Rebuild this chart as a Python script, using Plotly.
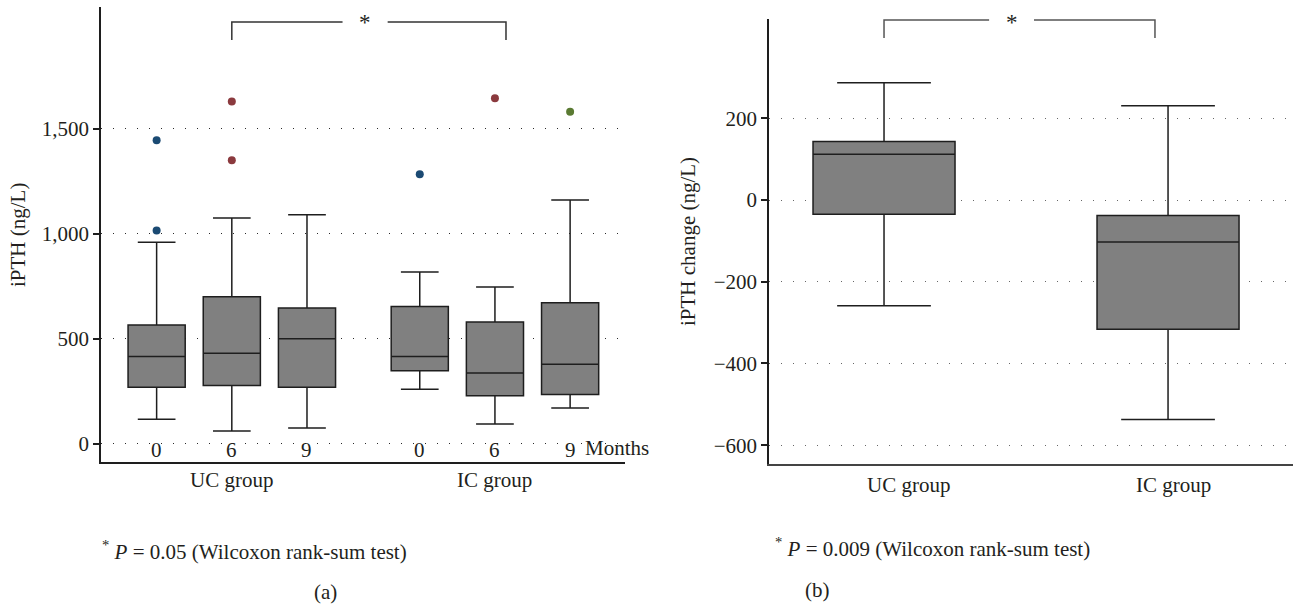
import plotly.graph_objects as go

# ---------------- data ----------------
# Panel (a): iPTH by group and month
groups = ["UC group", "IC group"]
months = ["0", "6", "9"]
a_q1 = [270, 278, 270, 349, 229, 235]
a_median = [416, 432, 501, 416, 338, 379]
a_q3 = [567, 701, 648, 654, 581, 673]
a_lower = [118, 62, 76, 260, 95, 171]
a_upper = [960, 1076, 1092, 819, 747, 1162]
# outliers: index of box, value
out_box = [0, 0, 1, 1, 3, 4, 5]
out_val = [1446, 1016, 1631, 1351, 1284, 1646, 1582]
month_colors = {"0": "#1b4a73", "6": "#8b3a3e", "9": "#5a7a32"}
a_ticks = [0, 500, 1000, 1500]
a_ticktext = ["0", "500", "1,000", "1,500"]

# Panel (b): iPTH change by group
b_q1 = [-35, -316]
b_median = [112, -103]
b_q3 = [143, -38]
b_lower = [-259, -537]
b_upper = [287, 231]
b_ticks = [-600, -400, -200, 0, 200]
b_ticktext = ["\u2212600", "\u2212400", "\u2212200", "0", "200"]

p_a = "0.05"
p_b = "0.009"

# ---------------- layout helpers ----------------
W, H = 1293, 605
FONT = "Liberation Serif"
TXT = "#231f20"
FS = 21

group_gap = 1.5
positions = []
labels_month = []
for gi, g in enumerate(groups):
    for mi, m in enumerate(months):
        positions.append(gi * (len(months) - 1 + group_gap) + mi)
        labels_month.append(m)

fig = go.Figure()

# Panel (a) boxes
fig.add_trace(go.Box(
    x=positions, q1=a_q1, median=a_median, q3=a_q3,
    lowerfence=a_lower, upperfence=a_upper,
    width=0.76, whiskerwidth=0.66, boxpoints=False,
    fillcolor="#808080", line=dict(color="#1e1e1e", width=1.5),
    xaxis="x", yaxis="y", showlegend=False, hoverinfo="skip",
))
fig.add_trace(go.Scatter(
    x=[positions[i] for i in out_box], y=out_val, mode="markers",
    marker=dict(size=8, color=[month_colors[labels_month[i]] for i in out_box]),
    xaxis="x", yaxis="y", showlegend=False, hoverinfo="skip",
))

# Panel (b) boxes
b_pos = list(range(len(groups)))
fig.add_trace(go.Box(
    x=b_pos, q1=b_q1, median=b_median, q3=b_q3,
    lowerfence=b_lower, upperfence=b_upper,
    width=0.5, whiskerwidth=0.66, boxpoints=False,
    fillcolor="#808080", line=dict(color="#1e1e1e", width=1.5),
    xaxis="x2", yaxis="y2", showlegend=False, hoverinfo="skip",
))

def py_(py):
    return (H - py) / H

def px_(px):
    return px / W

fig.update_layout(
    width=W, height=H,
    margin=dict(l=0, r=0, t=0, b=0),
    paper_bgcolor="white", plot_bgcolor="white",
    font=dict(family=FONT, size=FS, color=TXT),
    xaxis=dict(domain=[px_(101), px_(625)],
               range=[-0.74, 6.23], showgrid=False, zeroline=False,
               showticklabels=False, ticks="", showline=True,
               linecolor="#1e1e1e", linewidth=1.5, anchor="y"),
    yaxis=dict(domain=[py_(462), py_(7)],
               range=[-86, 2081], tickvals=a_ticks, ticktext=a_ticktext,
               showgrid=True, gridcolor="#2a2a2a", gridwidth=1.4,
               griddash="1.4px,10.6px", zeroline=False,
               ticks="outside", ticklen=6, tickwidth=1.5, tickcolor="#1e1e1e",
               showline=True, linecolor="#1e1e1e", linewidth=1.5,
               tickfont=dict(size=FS), anchor="x"),
    xaxis2=dict(domain=[px_(769), 1.0],
                range=[-0.405, 1.44], showgrid=False, zeroline=False,
                showticklabels=False, ticks="", showline=True,
                linecolor="#444444", linewidth=2, anchor="y2"),
    yaxis2=dict(domain=[py_(464), py_(19)],
                range=[-646, 443], tickvals=b_ticks, ticktext=b_ticktext,
                showgrid=True, gridcolor="#666666", gridwidth=1.4,
                griddash="1.4px,10.6px", zeroline=False,
                ticks="outside", ticklen=6, tickwidth=1.5, tickcolor="#1e1e1e",
                showline=True, linecolor="#1e1e1e", linewidth=1.5,
                tickfont=dict(size=FS), anchor="x2"),
)

ann = []
def add(text, x, y, xref="paper", yref="paper", **kw):
    d = dict(text=text, x=x, y=y, xref=xref, yref=yref, showarrow=False,
             xanchor="center", yanchor="middle", font=dict(size=FS))
    d.update(kw)
    ann.append(d)

# y-axis titles
add("iPTH (ng/L)", px_(18), py_(235), textangle=-90)
add("iPTH change (ng/L)", px_(688), py_(242), textangle=-90)
# month labels
for p, m in zip(positions, labels_month):
    add(m, p, py_(450), xref="x")
add("Months", px_(617), py_(448))
# group labels (a)
nm = len(months)
for gi, g in enumerate(groups):
    add(g, positions[gi * nm + 1], py_(480), xref="x")
# group labels (b)
for gi, g in enumerate(groups):
    add(g, b_pos[gi], py_(485), xref="x2", xshift=[24, 5][gi])
# footnotes
add("<sup>*</sup> <i>P</i> = " + p_a + " (Wilcoxon rank-sum test)",
    px_(100), py_(550), xanchor="left")
add("<sup>*</sup> <i>P</i> = " + p_b + " (Wilcoxon rank-sum test)",
    px_(773), py_(547), xanchor="left")
add("(a)", px_(325), py_(592))
add("(b)", px_(817), py_(590))

# significance brackets
shapes = []
def bracket(xref, x0, x1, g0, g1, ytop, ybot, color):
    yt, yb = py_(ytop), py_(ybot)
    line = dict(color=color, width=1.5)
    shapes.append(dict(type="path", xref=xref, yref="paper",
                       path=f"M {x0} {yb} L {x0} {yt} L {g0} {yt}", line=line))
    shapes.append(dict(type="path", xref=xref, yref="paper",
                       path=f"M {g1} {yt} L {x1} {yt} L {x1} {yb}", line=line))

bracket("x", positions[1], 4.647, 2.473, 3.073, 22, 40, "#333333")
bracket("x2", b_pos[0], 0.954, 0.37, 0.528, 20, 38, "#555555")
add("*", 2.767, py_(23), xref="x", font=dict(size=23))
add("*", 0.451, py_(23), xref="x2", font=dict(size=23))

fig.update_layout(annotations=ann, shapes=shapes)
fig.write_html(
    "out.html",
    config={"displayModeBar": False},
    post_script="document.body.style.margin='0';document.body.style.overflow='hidden';",
)
